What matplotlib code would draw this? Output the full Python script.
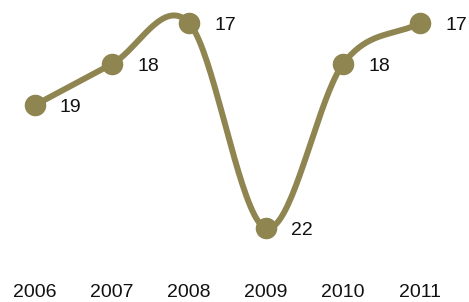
import matplotlib.pyplot as plt
import matplotlib.transforms as mtransforms
import numpy as np

years = ['2006', '2007', '2008', '2009', '2010', '2011']
ranks = [19, 18, 17, 22, 18, 17]

color = '#8f8550'
plt.rcParams['font.family'] = ['Liberation Sans', 'DejaVu Sans']


def catmull_rom(x, y, steps=40):
    # smooth curve through the points (cardinal spline, tension 0.5)
    p = np.column_stack([x, y]).astype(float)
    n = len(p)
    m = np.zeros_like(p)
    m[0] = p[1] - p[0]
    m[-1] = p[-1] - p[-2]
    for i in range(1, n - 1):
        m[i] = (p[i + 1] - p[i - 1]) / 2
    out = []
    t = np.linspace(0, 1, steps)[:, None]
    h00 = 2 * t**3 - 3 * t**2 + 1
    h10 = t**3 - 2 * t**2 + t
    h01 = -2 * t**3 + 3 * t**2
    h11 = t**3 - t**2
    for i in range(n - 1):
        out.append(h00 * p[i] + h10 * m[i] + h01 * p[i + 1] + h11 * m[i + 1])
    out = np.vstack(out)
    return out[:, 0], out[:, 1]


x = np.arange(len(years))
fig = plt.figure(figsize=(4.69, 3.02), dpi=100)
ax = fig.add_axes([0, 0, 1, 1])

cx, cy = catmull_rom(x, ranks)
ax.plot(cx, cy, color=color, lw=4.3, solid_capstyle='round', zorder=2)
ax.plot(x, ranks, 'o', color=color, ms=14.5, zorder=3)

for xi, r in zip(x, ranks):
    ax.annotate(str(r), (xi, r), xytext=(18, -1.5), textcoords='offset points',
                ha='left', va='center', fontsize=14, color='#111111')

trans = mtransforms.blended_transform_factory(ax.transData, ax.transAxes)
for xi, yr in zip(x, years):
    ax.text(xi, 0.004, yr, transform=trans, ha='center', va='bottom',
            fontsize=14, color='#111111')

ax.set_xlim(-0.4545, 5.636)
ax.set_ylim(23.8, 16.44)
ax.axis('off')

fig.savefig('out.png', dpi=100)
